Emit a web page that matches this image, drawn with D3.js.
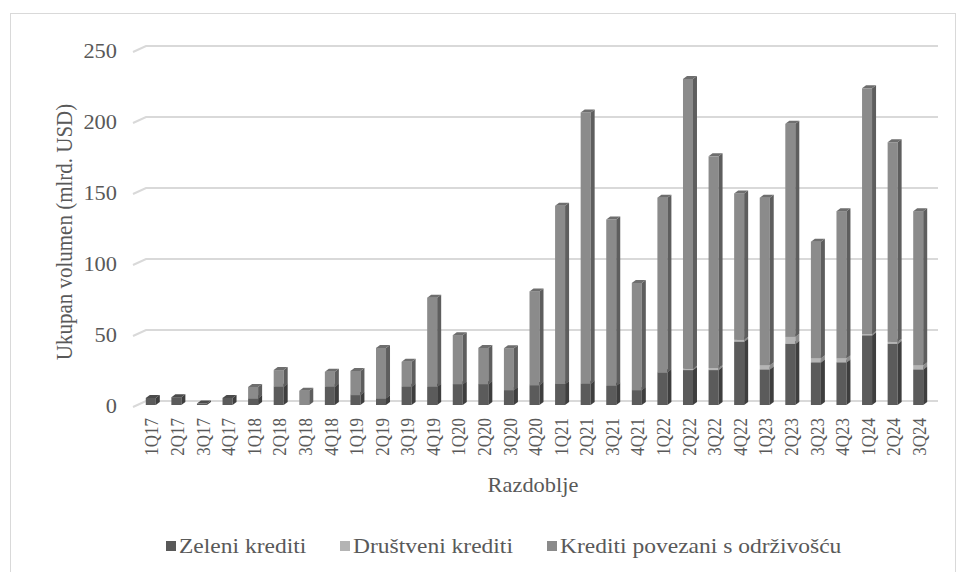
<!DOCTYPE html>
<html>
<head>
<meta charset="utf-8">
<script src="https://cdn.jsdelivr.net/npm/d3@7"></script>
<style>
  body { margin: 0; background: #fff; }
  text { font-family: 'Liberation Serif', 'Times New Roman', serif; fill: #595959; }
</style>
</head>
<body>
<div id="chart"></div>
<script>
// quarters on the x axis
var categories = ['1Q17','2Q17','3Q17','4Q17','1Q18','2Q18','3Q18','4Q18',
    '1Q19','2Q19','3Q19','4Q19','1Q20','2Q20','3Q20','4Q20',
    '1Q21','2Q21','3Q21','4Q21','1Q22','2Q22','3Q22','4Q22',
    '1Q23','2Q23','3Q23','4Q23','1Q24','2Q24','3Q24'];

// volumes in bn USD
var zeleni = [5, 5.5, 1, 5, 4.7, 12.9, 0, 12.9,
    7, 4.7, 12.9, 12.9, 14.7, 14.7, 10.5, 14,
    14.8, 15, 13.6, 10.5, 23, 24.6, 24.6, 44.5,
    25, 43, 30, 30, 49, 43, 25];
var drustveni = [0, 0, 0, 0, 0, 0, 0, 0,
    0, 0, 0, 0, 0, 0, 0, 0,
    0, 0, 0, 0, 0, 1, 1.5, 1.5,
    3, 5, 3, 3, 1, 1.5, 3];
var odrzivost = [0, 0, 0, 0, 8, 11.7, 10, 10.5,
    17, 35.5, 17.5, 62.7, 34.5, 25.5, 29.5, 66,
    125.5, 191, 117, 75.5, 123, 204, 149, 103,
    118, 150, 82, 103.5, 173, 140.5, 108.5];

var yTicks = [0, 50, 100, 150, 200, 250];
var seriesNames = ['Zeleni krediti', 'Društveni krediti', 'Krediti povezani s održivošću'];

var width = 964, height = 572;
var stretch = 1.12; // the reference text is a bit wider than plain Times

// faces of the 3D bars: front, side, top
var faces = [
    { front: '#5b5b5b', side: '#3e3e3e', top: '#4b4b4b' },
    { front: '#b5b5b5', side: '#8c8c8c', top: '#9c9c9c' },
    { front: '#8b8b8b', side: '#5e5e5e', top: '#6e6e6e' }
];
var legendColors = ['#595959', '#b4b4b4', '#8a8a8a'];

var svg = d3.select('#chart').append('svg')
    .attr('width', width)
    .attr('height', height);

svg.append('rect')
    .attr('x', 10.5).attr('y', 13.5)
    .attr('width', 945).attr('height', 600)
    .attr('fill', 'none')
    .attr('stroke', '#d9d9d9');

var x = d3.scaleBand().domain(categories).range([139, 932]);
var y = d3.scaleLinear().domain([0, 250]).range([401, 46]);

// gridlines on the back wall with the floor diagonal at the left
var backLeft = 146, backRight = 938, frontLeft = 133, frontDrop = 6;
svg.append('g').selectAll('path')
    .data(yTicks)
    .join('path')
    .attr('d', function(v) {
        return d3.line()([
            [frontLeft, y(v) + frontDrop],
            [backLeft, y(v)],
            [backRight, y(v)]
        ]);
    })
    .attr('fill', 'none')
    .attr('stroke', '#d9d9d9')
    .attr('stroke-width', 2);

// y tick labels
svg.append('g').selectAll('text')
    .data(yTicks)
    .join('text')
    .attr('transform', function(v) {
        return 'translate(117,' + (y(v) + 5) + ') scale(' + stretch + ',1)';
    })
    .attr('dy', '0.35em')
    .attr('text-anchor', 'end')
    .style('font-size', '20px')
    .text(function(v) { return v; });

// stacked bars
var stacked = d3.stack().keys([0, 1, 2])
    .value(function(d, k) { return d[k]; })(categories.map(function(c, i) {
        return [zeleni[i], drustveni[i], odrzivost[i]];
    }));

var barW = 10, depthX = 4, depthY = 3, barDrop = 4;
var bars = svg.append('g');
categories.forEach(function(c, i) {
    var cx = x(c) + x.bandwidth() / 2;
    var x0 = cx - 6, x1 = x0 + barW;
    stacked.forEach(function(layer, k) {
        var v0 = layer[i][0], v1 = layer[i][1];
        if (v1 - v0 <= 0) return;
        var yb = y(v0) + barDrop, yt = y(v1) + barDrop;
        var f = faces[k];
        bars.append('rect')
            .attr('x', x0).attr('y', yt)
            .attr('width', barW).attr('height', yb - yt)
            .attr('fill', f.front);
        bars.append('path')
            .attr('d', d3.line()([[x1, yb], [x1, yt], [x1 + depthX, yt - depthY], [x1 + depthX, yb - depthY]]) + 'Z')
            .attr('fill', f.side);
        bars.append('path')
            .attr('d', d3.line()([[x0, yt], [x1, yt], [x1 + depthX, yt - depthY], [x0 + depthX, yt - depthY]]) + 'Z')
            .attr('fill', f.top);
    });
});

// x tick labels, rotated
svg.append('g').selectAll('text')
    .data(categories)
    .join('text')
    .attr('transform', function(c) {
        return 'translate(' + (x(c) + x.bandwidth() / 2) + ',418) scale(' + stretch + ',1) rotate(-90)';
    })
    .attr('dy', '0.35em')
    .attr('text-anchor', 'end')
    .style('font-size', '17px')
    .text(function(c) { return c; });

// axis titles
svg.append('text')
    .attr('transform', 'translate(533,492) scale(' + stretch + ',1)')
    .attr('text-anchor', 'middle')
    .style('font-size', '20px')
    .text('Razdoblje');

svg.append('text')
    .attr('transform', 'translate(64,232) scale(' + stretch + ',1) rotate(-90)')
    .attr('dy', '0.35em')
    .attr('text-anchor', 'middle')
    .style('font-size', '21px')
    .text('Ukupan volumen (mlrd. USD)');

// legend
var legendX = [166, 340, 547];
var legend = svg.append('g').selectAll('g')
    .data(seriesNames)
    .join('g')
    .attr('transform', function(d, i) { return 'translate(' + legendX[i] + ',546)'; });
legend.append('rect')
    .attr('x', 0).attr('y', -5)
    .attr('width', 10).attr('height', 10)
    .attr('fill', function(d, i) { return legendColors[i]; });
legend.append('text')
    .attr('transform', 'translate(13,0) scale(' + stretch + ',1)')
    .attr('dy', '0.35em')
    .style('font-size', '21px')
    .text(function(d) { return d; });
</script>
</body>
</html>
